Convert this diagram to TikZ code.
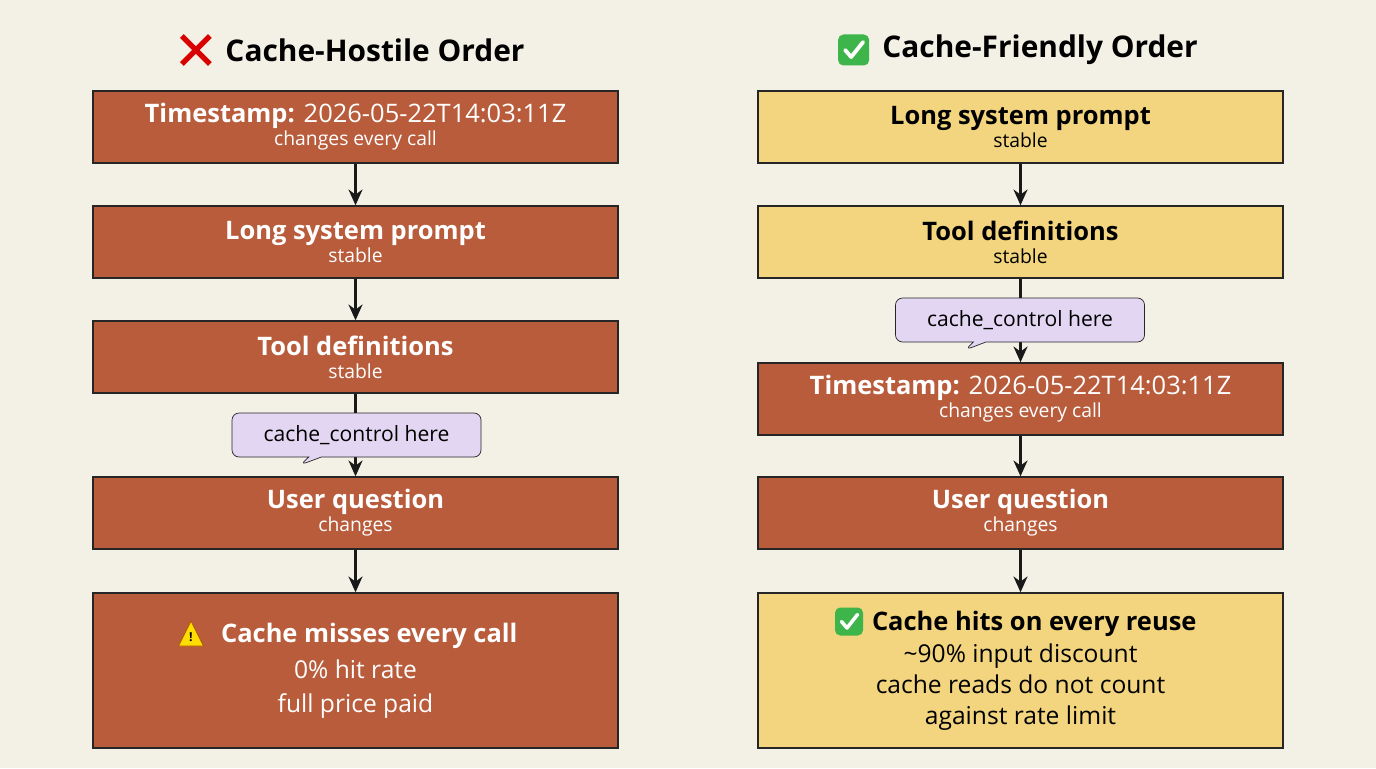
\documentclass[tikz,border=0pt]{standalone}
\usepackage{fontspec}
\setmainfont{Open Sans}
\usetikzlibrary{shapes.callouts,arrows.meta}
\definecolor{bgc}{HTML}{F3F0E5}
\definecolor{rust}{HTML}{B85C3C}
\definecolor{sand}{HTML}{F2D57E}
\definecolor{lilac}{HTML}{E2D6F2}
\definecolor{okgreen}{HTML}{3DB54A}
\newcommand{\boxmain}[1]{{\fontsize{14.5}{17}\selectfont\bfseries #1}}
\newcommand{\boxsub}[1]{{\fontsize{11}{13}\selectfont #1}}
\begin{document}
\begin{tikzpicture}[
    block/.style={draw=black!85, line width=0.8pt, minimum width=10.5cm, minimum height=1.44cm, align=center, inner sep=2pt},
    hot/.style={block, fill=rust, text=white},
    cold/.style={block, fill=sand, text=black},
    big/.style={minimum height=3.1cm, font=\fontsize{14}{19}\selectfont},
    link/.style={-{Stealth[length=9pt,width=8pt]}, line width=1.3pt, black!90},
    tag/.style={rectangle callout, draw=black!85, fill=lilac, rounded corners=4pt, minimum width=4.98cm, minimum height=0.88cm, font=\fontsize{12}{14}\selectfont},
    heading/.style={font=\fontsize{17}{20}\selectfont\bfseries}
  ]
  \useasboundingbox[fill=bgc] (0,0) rectangle (27.52,-15.36);
  % Left column: hostile order
  \node[heading] (lhead) at (7.5,-1.0) {Cache-Hostile Order};
  \draw[red!85!black, line width=3pt] ([xshift=-0.75cm,yshift=-0.28cm]lhead.west) -- ++(0.56,0.56)
    ([xshift=-0.75cm,yshift=0.28cm]lhead.west) -- ++(0.56,-0.56);
  \node[hot] (l1) at (7.11,-2.54) {\boxmain{Timestamp: \textmd{2026-05-22T14:03:11Z}}\\[1pt]\boxsub{changes every call}};
  \node[hot] (l2) at (7.11,-4.84) {\boxmain{Long system prompt}\\[1pt]\boxsub{stable}};
  \node[hot] (l3) at (7.11,-7.14) {\boxmain{Tool definitions}\\[1pt]\boxsub{stable}};
  \node[hot] (l4) at (7.11,-10.26) {\boxmain{User question}\\[1pt]\boxsub{changes}};
  \node[hot, big] (l5) at (7.11,-13.41) {\boxmain{\hspace{0.55cm}Cache misses every call}\\[2pt]
    0\% hit rate\\full price paid};
  \fill[yellow!80!orange, draw=orange!70!black, line width=0.4pt, line join=round] (3.57,-12.92) -- (4.07,-12.92) -- (3.82,-12.42) -- cycle;
  \node[font=\fontsize{7}{7}\selectfont\bfseries] at (3.82,-12.74) {!};
  \draw[link] (l1) -- (l2);
  \draw[link] (l2) -- (l3);
  \draw[link] (l3) -- (l4);
  \draw[link] (l4) -- (l5);
  \node[tag, callout absolute pointer={(6.0,-9.3)}] (ltag) at (7.13,-8.7) {cache\_control here};

  % Right column: friendly order
  \node[heading] (rhead) at (20.8,-1.0) {Cache-Friendly Order};
  \node[fill=okgreen, rounded corners=3pt, minimum size=0.62cm, inner sep=0pt] (rok) at ([xshift=-0.45cm]rhead.west) {};
  \draw[white, line width=2.2pt, line cap=round, line join=round] ([shift={(-0.17,0.0)}]rok.center) -- ++(0.12,-0.14) -- ++(0.24,0.3);
  \node[cold] (r1) at (20.41,-2.54) {\boxmain{Long system prompt}\\[1pt]\boxsub{stable}};
  \node[cold] (r2) at (20.41,-4.84) {\boxmain{Tool definitions}\\[1pt]\boxsub{stable}};
  \node[hot] (r3) at (20.41,-7.98) {\boxmain{Timestamp: \textmd{2026-05-22T14:03:11Z}}\\[1pt]\boxsub{changes every call}};
  \node[hot] (r4) at (20.41,-10.26) {\boxmain{User question}\\[1pt]\boxsub{changes}};
  \node[cold, big, font=\fontsize{14}{17.5}\selectfont] (r5) at (20.41,-13.41) {\boxmain{\hspace{0.55cm}Cache hits on every reuse}\\[1pt]
    \textasciitilde 90\% input discount\\cache reads do not count\\against rate limit};
  \node[fill=okgreen, rounded corners=3pt, minimum size=0.56cm, inner sep=0pt] (rok2) at (16.98,-12.43) {};
  \draw[white, line width=2pt, line cap=round, line join=round] ([shift={(-0.15,0.0)}]rok2.center) -- ++(0.11,-0.13) -- ++(0.21,0.27);
  \draw[link] (r1) -- (r2);
  \draw[link] (r2) -- (r3);
  \draw[link] (r3) -- (r4);
  \draw[link] (r4) -- (r5);
  \node[tag, callout absolute pointer={(19.3,-7.0)}] (rtag) at (20.4,-6.4) {cache\_control here};
\end{tikzpicture}
\end{document}
